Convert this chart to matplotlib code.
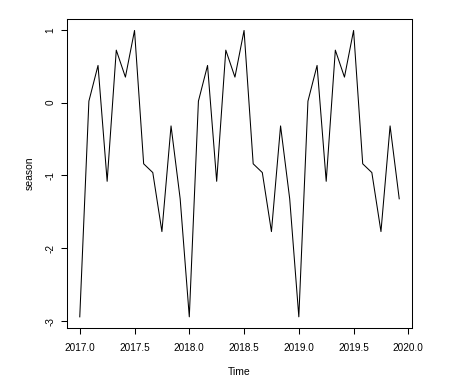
import numpy as np
import matplotlib
matplotlib.use("Agg")
import matplotlib.pyplot as plt

plt.rcParams["font.family"] = ["Liberation Sans", "DejaVu Sans"]

# componente estacional mensual, se repite 3 años (2017-2019)
season_month = [-2.94, 0.02, 0.51, -1.08, 0.72, 0.35,
                0.99, -0.84, -0.96, -1.77, -0.32, -1.32]
years = [2017, 2018, 2019]
x_ticks = [2017.0, 2017.5, 2018.0, 2018.5, 2019.0, 2019.5, 2020.0]
y_ticks = [-3, -2, -1, 0, 1]

time = np.array([y + m / 12 for y in years for m in range(12)])
season = np.array(season_month * len(years))

fig = plt.figure(figsize=(4.52, 3.88), dpi=100)
ax = fig.add_axes([0.1482, 0.1539, 0.9115 - 0.1482, 0.951 - 0.1539])
ax.plot(time, season, color="black", linewidth=0.75)
ax.margins(x=0.04, y=0.04)

ax.set_xticks(x_ticks)
ax.set_xticklabels(["%.1f" % v for v in x_ticks])
ax.set_yticks(y_ticks)
ax.set_yticklabels([str(v) for v in y_ticks], rotation=90, va="center")
ax.tick_params(axis="both", direction="out", length=4.3, width=0.75,
               labelsize=7.2, color="black")
ax.tick_params(axis="x", pad=6.5)
ax.tick_params(axis="y", pad=4)
for s in ax.spines.values():
    s.set_linewidth(0.75)

ax.set_xlabel("Time", fontsize=7.5)
ax.set_ylabel("season", fontsize=7.5)
ax.xaxis.set_label_coords(0.5, -(371.7 - 328.3) / (328.3 - 19), transform=ax.transAxes)
ax.yaxis.set_label_coords(-(67 - 30) / (412 - 67), 0.5, transform=ax.transAxes)
ax.xaxis.label.set_va("center")
ax.yaxis.label.set_va("center")

fig.savefig("out.png", dpi=100)
